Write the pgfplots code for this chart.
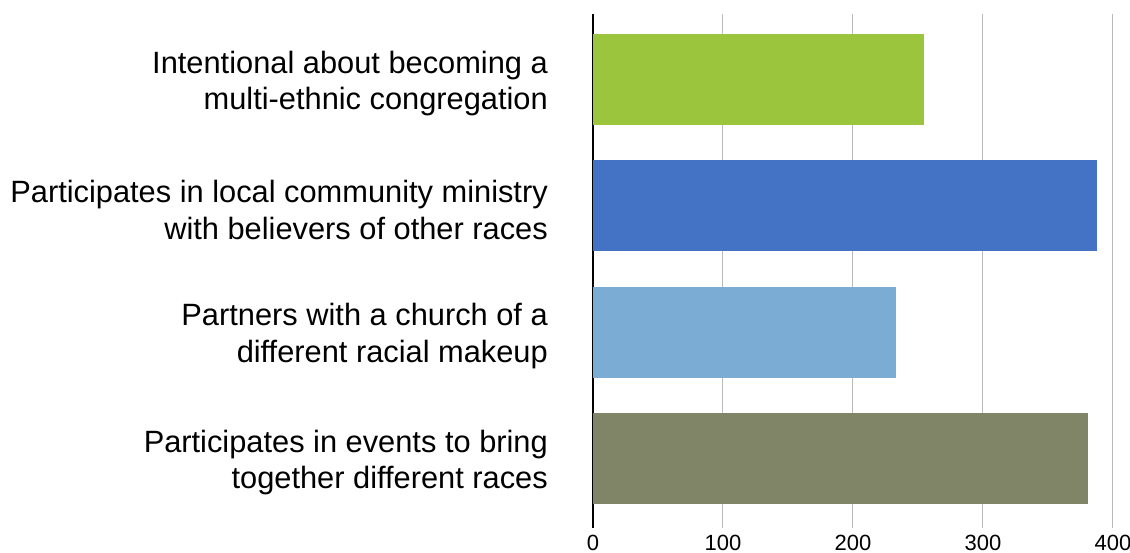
\documentclass[border=0pt]{standalone}
\usepackage{pgfplots}
\pgfplotsset{compat=1.18}
\usepackage{fontspec}
\setmainfont{Liberation Sans}
\definecolor{cgreen}{RGB}{155,197,61}
\definecolor{cblue}{RGB}{68,114,196}
\definecolor{clblue}{RGB}{122,172,212}
\definecolor{colive}{RGB}{128,133,104}
\begin{document}
\begin{tikzpicture}
\begin{axis}[
  at={(593pt,-14pt)}, anchor=north west,
  scale only axis, width=520pt, height=514pt,
  xmin=0, xmax=400, ymin=-0.518, ymax=3.55, y dir=reverse,
  axis x line*=bottom, axis y line*=left,
  x axis line style={draw=none},
  y axis line style={black, line width=1.6pt},
  xtick={0,100,200,300,400},
  ytick={0,1,2,3},
  yticklabels={{Intentional about becoming a\\multi-ethnic congregation},
               {Participates in local community ministry\\with believers of other races},
               {Partners with a church of a\\different racial makeup},
               {Participates in events to bring\\together different races}},
  major tick length=0pt,
  xmajorgrids,
  major grid style={draw=black!27, line width=1pt},
  /pgf/number format/assume math mode=true,
  xticklabel style={font=\fontsize{22}{26}\selectfont, inner sep=0pt, yshift=-7pt},
  yticklabel style={font=\fontsize{30.8}{36.5}\selectfont, align=right, inner sep=0pt, xshift=-45pt, yshift=-4pt},
  xbar, bar width=0.72, bar shift=0pt,
]
\addplot[draw=none, fill=cgreen] coordinates {(255,0)};
\addplot[draw=none, fill=cblue] coordinates {(388,1)};
\addplot[draw=none, fill=clblue] coordinates {(233,2)};
\addplot[draw=none, fill=colive] coordinates {(381,3)};
\end{axis}
\pgfresetboundingbox
\useasboundingbox (0,0) rectangle (1130pt,-553pt);
\end{tikzpicture}
\end{document}
